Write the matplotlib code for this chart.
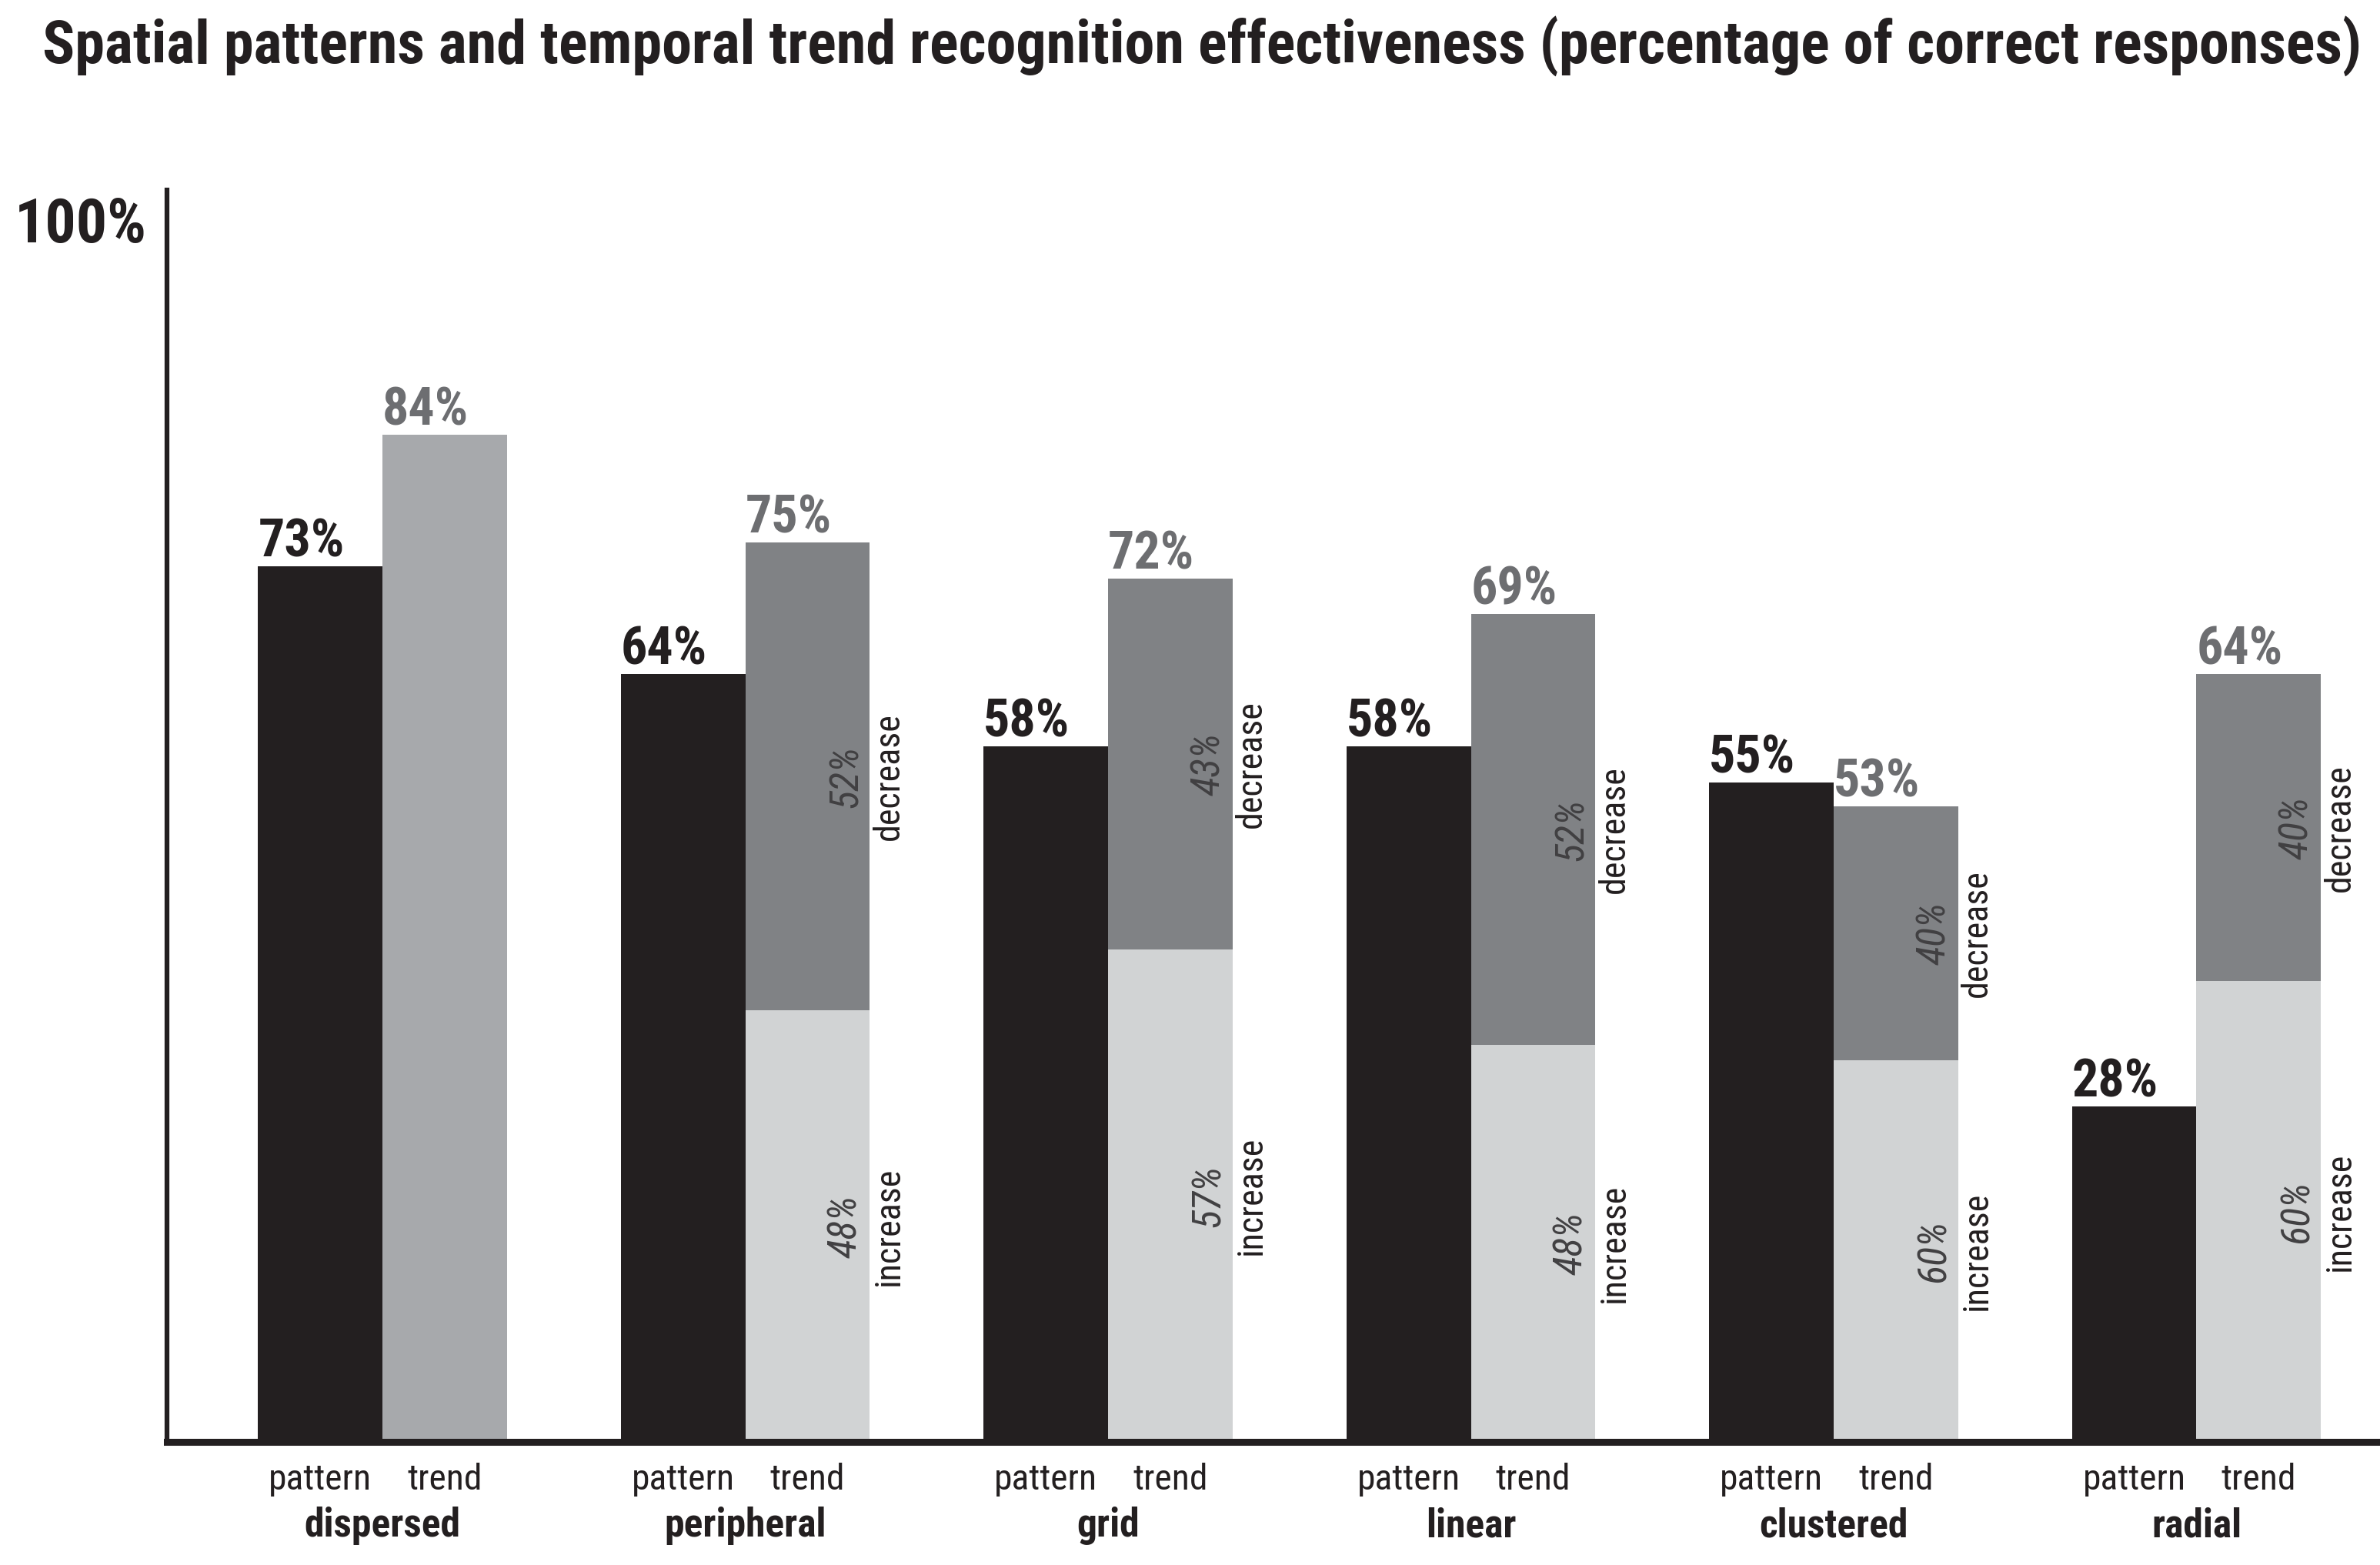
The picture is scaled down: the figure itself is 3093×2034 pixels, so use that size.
import numpy as np
import matplotlib.pyplot as plt
from matplotlib import font_manager

# datos
categories = ['dispersed', 'peripheral', 'grid', 'linear', 'clustered', 'radial']
pattern = [73, 64, 58, 58, 55, 28]
trend = [84, 75, 72, 69, 53, 64]
decrease = [None, 52, 43, 52, 40, 40]   # % del total de "trend"
increase = [None, 48, 57, 48, 60, 60]

title = 'Spatial patterns and temporal trend recognition effectiveness (percentage of correct responses)'


def pick_font():
    # buscar una fuente estrecha instalada
    cands = []
    for f in font_manager.fontManager.ttflist:
        st = str(f.stretch)
        if 'Narrow' in f.name or 'ondensed' in f.name or 'condensed' in st:
            cands.append((f.name, st))
    for pref in ['Liberation Sans Narrow', 'Roboto Condensed', 'Open Sans Condensed',
                 'Noto Sans', 'DejaVu Sans']:
        for name, st in cands:
            if name.startswith(pref):
                return name, st
    if cands:
        return cands[0]
    return 'DejaVu Sans', 'normal'


font, stretch = pick_font()
plt.rcParams['font.family'] = [font, 'DejaVu Sans']
plt.rcParams['font.stretch'] = stretch

black = '#231f20'
c_single = '#a7a9ac'
c_dec = '#808285'
c_inc = '#d1d3d4'
c_lab = '#6d6e71'
c_pct = '#414042'

fig = plt.figure(figsize=(30.93, 20.34), dpi=100)
renderer = fig.canvas.get_renderer()


def fit_size(s, target_px, cap, weight='normal', style='normal'):
    t = fig.text(0, 0, s, fontsize=100, fontweight=weight, style=style)
    wpx = t.get_window_extent(renderer).width
    t.remove()
    return min(cap, 100 * target_px / wpx)


fs_val = fit_size('73%', 114, 49, 'bold')
fs_small = fit_size('pattern', 134, 38)
fs_cat = fit_size('dispersed', 203, 38, 'bold')
fs_word = fit_size('decrease', 166, 40)
fs_pct = fit_size('52%', 82, 44, style='italic')
fs_100 = fit_size('100%', 172, 59, 'bold')
fs_title = fit_size(title, 3013, 64, 'bold')

ax = fig.add_axes([0.0702, 0.0786, 0.9298, 0.8002])

x = np.arange(len(categories))
w = 0.343

ax.bar(x - w / 2, pattern, w, color=black, linewidth=0)

for i in range(len(categories)):
    xt = x[i] + w / 2
    if decrease[i] is None:
        ax.bar(xt, trend[i], w, color=c_single, linewidth=0)
        continue
    inc_h = trend[i] * increase[i] / 100
    dec_h = trend[i] * decrease[i] / 100
    ax.bar(xt, inc_h, w, color=c_inc, linewidth=0)
    ax.bar(xt, dec_h, w, bottom=inc_h, color=c_dec, linewidth=0)
    # etiquetas giradas
    right = x[i] + w
    for mid, pct, word in [(inc_h / 2, increase[i], 'increase'),
                           (inc_h + dec_h / 2, decrease[i], 'decrease')]:
        ax.text(right - 0.012, mid, f'{pct}%', rotation=90, ha='right', va='center',
                fontsize=fs_pct, style='italic', color=c_pct)
        ax.text(right + 0.005, mid, word, rotation=90, ha='left', va='center',
                fontsize=fs_word, color=black)

# valores encima de las barras y nombres
for i in range(len(categories)):
    ax.text(x[i] - w, pattern[i] + 0.8, f'{pattern[i]}%', ha='left', va='baseline',
            fontsize=fs_val, fontweight='bold', color=black)
    ax.text(x[i], trend[i] + 0.8, f'{trend[i]}%', ha='left', va='baseline',
            fontsize=fs_val, fontweight='bold', color=c_lab)
    ax.text(x[i] - w / 2, -1.7, 'pattern', ha='center', va='top', fontsize=fs_small, color=black)
    ax.text(x[i] + w / 2, -1.7, 'trend', ha='center', va='top', fontsize=fs_small, color=black)
    ax.text(x[i], -5.4, categories[i], ha='center', va='top', fontsize=fs_cat,
            fontweight='bold', color=black)

ax.set_xlim(-0.594, 5.506)
ax.set_ylim(0, 104.4)
ax.text(-0.65, 100, '100%', ha='right', va='baseline', fontsize=fs_100,
        fontweight='bold', color=black, clip_on=False)

for s in ['top', 'right']:
    ax.spines[s].set_visible(False)
ax.spines['left'].set_linewidth(4.5)
ax.spines['bottom'].set_linewidth(6.5)
ax.spines['left'].set_color(black)
ax.spines['bottom'].set_color(black)
ax.set_xticks([])
ax.set_yticks([])

fig.text(28 / 1568, 1 - 30 / 1031, title, ha='left', va='center',
         fontsize=fs_title, fontweight='bold', color=black)

fig.savefig('out.png', dpi=100)
